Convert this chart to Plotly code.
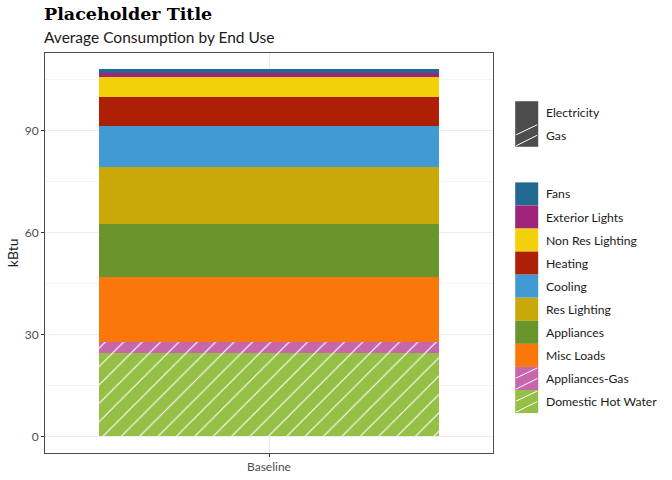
import plotly.graph_objects as go

# ---------------- data ----------------
scenario = ["Baseline"]
end_uses = ["Domestic Hot Water", "Appliances-Gas", "Misc Loads", "Appliances",
            "Res Lighting", "Cooling", "Heating", "Non Res Lighting",
            "Exterior Lights", "Fans"]
fuel = ["Gas", "Gas", "Electricity", "Electricity", "Electricity",
        "Electricity", "Electricity", "Electricity", "Electricity", "Electricity"]
values = [24.5, 3.3, 19.1, 15.7, 16.6, 12.1, 8.7, 5.9, 1.0, 1.4]
colors = ["#96bf45", "#c766aa", "#fa780b", "#6a942c", "#c9a90a",
          "#419ad3", "#ae2005", "#f2d00a", "#a0247a", "#236a92"]
fuel_types = ["Electricity", "Gas"]
y_ticks = [0, 30, 60, 90]

FONT = "Lato"

fig = go.Figure()
for name, f, v, c in zip(end_uses, fuel, values, colors):
    if f == "Gas":
        pat = dict(shape="/", fgcolor="white", bgcolor=c, fillmode="overlay",
                   size=13, solidity=0.09, fgopacity=1)
    else:
        pat = dict(shape="")
    fig.add_trace(go.Bar(x=scenario, y=[v], name=name, width=0.9,
                         marker=dict(color=c, line=dict(width=0), pattern=pat),
                         showlegend=False))

# layout geometry (pixels)
W, H = 672, 480
L, R, T, B = 45.3, 493.3, 52.7, 453.3

def px(x):
    return (x - L) / (R - L)

def py(y):
    return (B - y) / (B - T)

shapes = []
annotations = []

def swatch(x0, y0, x1, y1, color, hatch):
    shapes.append(dict(type="rect", xref="paper", yref="paper",
                       x0=px(x0), x1=px(x1), y0=py(y1), y1=py(y0),
                       fillcolor=color, line=dict(width=0), layer="above"))
    if hatch:
        for (ax, ay, bx, by) in [(x0 + 1, y1 - 12, x1 - 1, y1 - 22),
                                 (x0 + 1, y1 - 1, x1 - 1, y1 - 11.5)]:
            shapes.append(dict(type="line", xref="paper", yref="paper",
                               x0=px(ax), y0=py(ay), x1=px(bx), y1=py(by),
                               line=dict(color="white", width=1), layer="above"))

def label(x, y, text):
    annotations.append(dict(xref="paper", yref="paper", x=px(x), y=py(y),
                            text=text, showarrow=False, xanchor="left",
                            yanchor="middle", xshift=-1,
                            font=dict(family=FONT, size=12.2, color="#1a1a1a")))

# fuel-type key
sx0, sx1 = 515.5, 538.5
top = 101.0
h = 22.8
for i, ft in enumerate(fuel_types):
    y0 = top + i * h
    swatch(sx0, y0, sx1, y0 + h, "#4d4d4d", ft == "Gas")
    label(545, y0 + h / 2, ft)

# end-use key (top to bottom = reverse stacking order)
top2 = 182.3
h2 = 23.1
for i, idx in enumerate(range(len(end_uses) - 1, -1, -1)):
    y0 = top2 + i * h2
    swatch(sx0, y0, sx1, y0 + h2, colors[idx], fuel[idx] == "Gas")
    label(545, y0 + h2 / 2, end_uses[idx])

# titles
annotations.append(dict(xref="paper", yref="paper", x=px(45), y=py(14),
                        text="<b>Placeholder Title</b>", showarrow=False,
                        xanchor="left", yanchor="middle", xshift=-3,
                        font=dict(family="DejaVu Serif", size=17.5, color="black")))
annotations.append(dict(xref="paper", yref="paper", x=px(45), y=py(37),
                        text="Average Consumption by End Use", showarrow=False,
                        xanchor="left", yanchor="middle", xshift=-3,
                        font=dict(family=FONT, size=15.5, color="#1a1a1a")))
# y-axis title
annotations.append(dict(xref="paper", yref="paper", x=px(12.5), y=py(253),
                        text="kBtu", showarrow=False, textangle=-90,
                        xanchor="center", yanchor="middle",
                        font=dict(family=FONT, size=14, color="#1a1a1a")))

fig.update_layout(
    width=W, height=H,
    margin=dict(l=L, r=W - R, t=T, b=H - B, pad=0, autoexpand=False),
    barmode="stack",
    bargap=0.1,
    plot_bgcolor="white", paper_bgcolor="white",
    font=dict(family=FONT, size=12, color="#4d4d4d"),
    showlegend=False,
    shapes=shapes,
    annotations=annotations,
    xaxis=dict(type="category", range=[-0.593, 0.593], showgrid=True,
               gridcolor="#ebebeb", gridwidth=1, automargin=False,
               ticks="outside", ticklen=3, tickcolor="#333333",
               tickfont=dict(family=FONT, size=12, color="#4d4d4d"),
               showline=True, linecolor="#4d4d4d", linewidth=1, mirror=True,
               zeroline=False, fixedrange=True),
    yaxis=dict(range=[-4.9, 112.9], tickvals=y_ticks,
               ticktext=[str(t) for t in y_ticks], automargin=False,
               showgrid=True, gridcolor="#ebebeb", gridwidth=1,
               minor=dict(tickvals=[15, 45, 75, 105], showgrid=True,
                          gridcolor="#f4f4f4", gridwidth=0.6, ticks=""),
               ticks="outside", ticklen=3, tickcolor="#333333",
               tickfont=dict(family=FONT, size=12, color="#4d4d4d"),
               showline=True, linecolor="#4d4d4d", linewidth=1, mirror=True,
               zeroline=False),
)

fig.write_html("out.html",
               config={"displayModeBar": False},
               post_script="document.body.style.margin='0px';"
                           "document.body.style.padding='0px';")
